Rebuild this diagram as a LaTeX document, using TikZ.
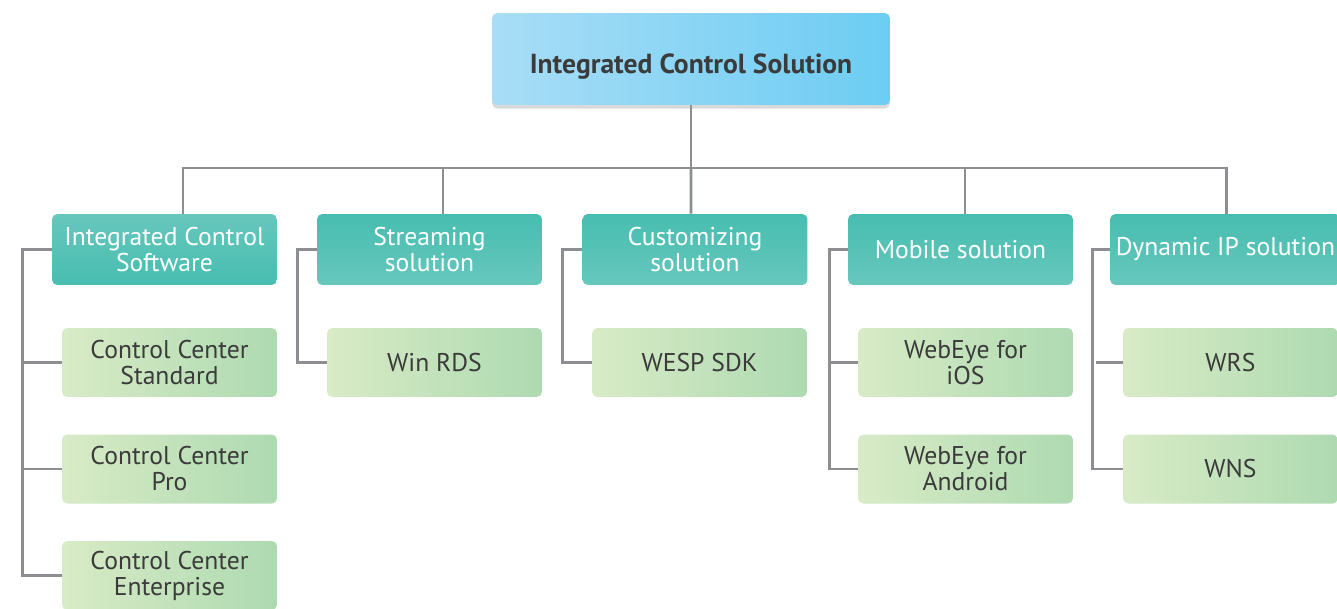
\documentclass[tikz,border=0pt]{standalone}
\usepackage{fontspec}
\setmainfont{PT Sans}
\usepackage{tikz}
\usetikzlibrary{positioning}
\usetikzlibrary{shadows}
\usetikzlibrary{calc}

\definecolor{skyL}{HTML}{A9DDF6}
\definecolor{skyR}{HTML}{6CCDF3}
\definecolor{tealA}{HTML}{47BDB0}
\definecolor{tealB}{HTML}{67C7BD}
\definecolor{leafL}{HTML}{D8EBC6}
\definecolor{leafR}{HTML}{AEDAB1}
\definecolor{wire}{HTML}{8C8E91}
\definecolor{ink}{HTML}{3B3B3B}

\begin{document}
\begin{tikzpicture}[
    x=0.02cm, y=-0.02cm,
    link/.style={draw=wire, line width=1.6pt},
    rootbox/.style={rectangle, rounded corners=3pt, minimum width=7.96cm, minimum height=1.84cm,
      left color=skyL, right color=skyR, text=ink, text height=16.5pt, text depth=0pt,
      font=\fontsize{15.7}{18}\selectfont\bfseries,
      drop shadow={opacity=0.3, shadow xshift=0pt, shadow yshift=-2pt}},
    groupbox/.style={rectangle, rounded corners=3pt, minimum width=4.5cm, minimum height=1.42cm,
      top color=tealA, bottom color=tealB, text=white, align=center,
      font=\fontsize{14.6}{14.8}\selectfont},
    itembox/.style={rectangle, rounded corners=3pt, minimum width=4.3cm, minimum height=1.38cm,
      left color=leafL, right color=leafR, text=ink, align=center,
      font=\fontsize{14.6}{14.8}\selectfont}
  ]
    \useasboundingbox (0,0) rectangle (1337,608);

    % top of the tree
    \node[rootbox] (root) at (691,59) {Integrated Control Solution};
    \coordinate (hub) at (691,168);

    % solution groups
    \node[groupbox, top color=tealB, bottom color=tealA] (grp1) at (164.5,249.5) {Integrated Control\\Software};
    \node[groupbox] (grp2) at (429.5,249.5) {Streaming\\solution};
    \node[groupbox] (grp3) at (695,249.5) {Customizing\\solution};
    \node[groupbox] (grp4) at (960.5,249.5) {Mobile solution};
    \node[groupbox, top color=tealA, bottom color=tealB] (grp5) at (1225.5,249.5) {Dynamic IP solution};

    % products
    \node[itembox] (itm11) at (169.5,362.5) {Control Center\\Standard};
    \node[itembox] (itm12) at (169.5,469) {Control Center\\Pro};
    \node[itembox] (itm13) at (169.5,575.5) {Control Center\\Enterprise};
    \node[itembox] (itm21) at (434.5,362.5) {Win RDS};
    \node[itembox] (itm31) at (699.5,362.5) {WESP SDK};
    \node[itembox] (itm41) at (965.5,362.5) {WebEye for\\iOS};
    \node[itembox] (itm42) at (965.5,469) {WebEye for\\Android};
    \node[itembox] (itm51) at (1230.5,362.5) {WRS};
    \node[itembox] (itm52) at (1230.5,469) {WNS};

    % trunk and branches
    \draw[link] (root.south) -- (hub);
    \draw[link] ([xshift=-0.08cm]grp3.north) -- (hub);
    \draw[link] ([xshift=0.37cm]grp1.north) |- (hub) -| ([xshift=0.02cm]grp5.north);
    \draw[link] ([xshift=0.27cm]grp2.north) -- ([xshift=0.27cm]grp2.north |- hub);
    \draw[link] ([xshift=0.09cm]grp4.north) -- ([xshift=0.09cm]grp4.north |- hub);

    % brackets to the products
    \draw[link] (grp1.west) -- ++(-29,0) |- (itm13.west);
    \draw[link] (itm11.west) -- ++(-39,0);
    \draw[link] (itm12.west) -- ++(-39,0);
    \draw[link] (grp2.west) -- ++(-19,0) |- (itm21.west);
    \draw[link] (grp3.west) -- ++(-20,0) |- (itm31.west);
    \draw[link] (grp4.west) -- ++(-18,0) |- (itm42.west);
    \draw[link] (itm41.west) -- ++(-28,0);
    \draw[link] (grp5.west) -- ++(-17,0) |- (itm52.west);
    \draw[link] (itm51.west) -- ++(-27,0);
  \end{tikzpicture}
\end{document}
